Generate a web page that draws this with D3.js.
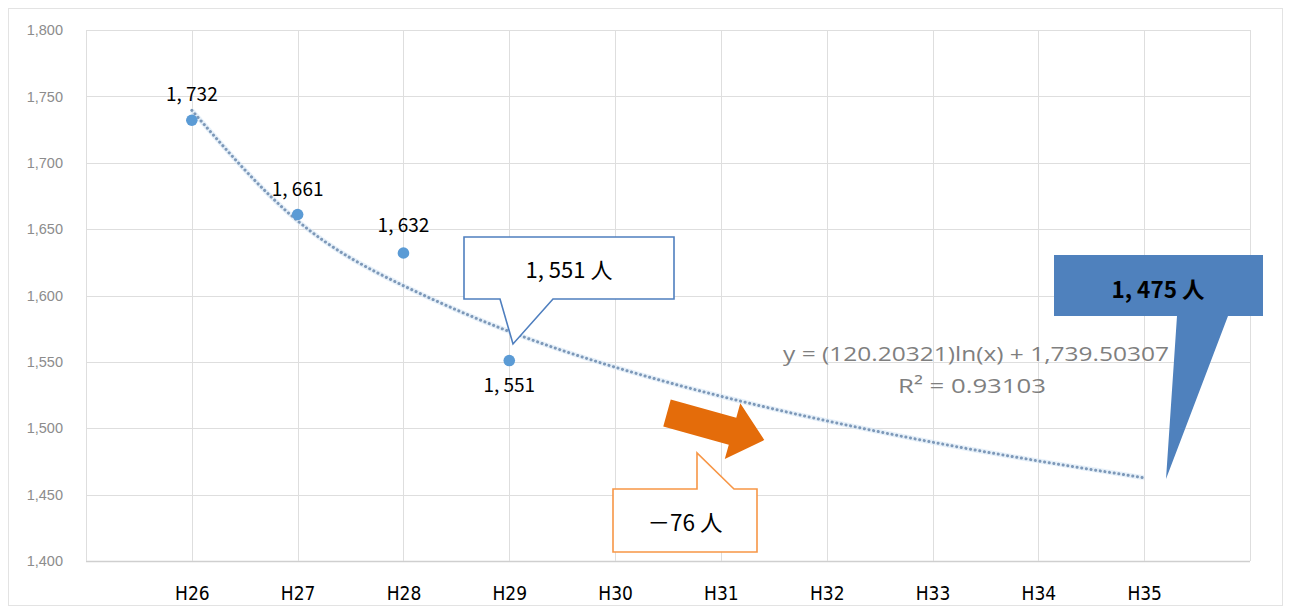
<!DOCTYPE html>
<html><head><meta charset="utf-8">
<script src="https://cdn.jsdelivr.net/npm/d3@7"></script>
<style>
html,body{margin:0;padding:0;background:#fff;}
svg{display:block;}
</style></head>
<body>
<svg id="chart" width="1290" height="613"></svg>
<script>
// ---- data ----
const categories = ["H26","H27","H28","H29","H30","H31","H32","H33","H34","H35"];
const actualValues = [1732, 1661, 1632, 1551];
const actualLabels = ["1, 732","1, 661","1, 632","1, 551"];
const trendValues = [1739.5, 1656.2, 1607.4, 1572.9, 1546.0, 1524.1, 1505.6, 1489.5, 1475.4, 1462.7];
const yTicks = [1400,1450,1500,1550,1600,1650,1700,1750,1800];
const equationLines = ["y = (120.20321)ln(x) + 1,739.50307", "R² = 0.93103"];
const calloutTexts = ["1, 551 人", "－76 人", "1, 475 人"];

(function(){
const svg = d3.select("#chart");
const mLeft = 86, mRight = 1250, mTop = 30, mBottom = 561;
const x = d3.scaleLinear().domain([0, categories.length + 1]).range([mLeft, mRight]);
const y = d3.scaleLinear().domain([1400, 1800]).range([mBottom, mTop]);

// outer border
svg.append("rect").attr("x", 8.5).attr("y", 8.5).attr("width", 1274).attr("height", 597)
  .attr("fill", "none").attr("stroke", "#e3e3e3");

// gridlines
const grid = svg.append("g");
grid.selectAll("line.h").data(yTicks).join("line")
  .attr("x1", mLeft).attr("x2", mRight)
  .attr("y1", d => Math.round(y(d)) + 0.5).attr("y2", d => Math.round(y(d)) + 0.5)
  .attr("stroke", d => d === 1400 ? "#cfcfcf" : "#dedede").attr("stroke-width", d => d === 1400 ? 1.5 : 1);
grid.selectAll("line.v").data(d3.range(0, categories.length + 2)).join("line")
  .attr("y1", mTop).attr("y2", mBottom)
  .attr("x1", d => Math.round(x(d)) + 0.5).attr("x2", d => Math.round(x(d)) + 0.5)
  .attr("stroke", "#dedede");

// y axis
const yAxis = svg.append("g").attr("transform", `translate(${mLeft - 20},0)`)
  .call(d3.axisLeft(y).tickValues(yTicks).tickSize(0).tickFormat(d3.format(",")));
yAxis.select(".domain").remove();
yAxis.selectAll("text").attr("fill", "#8c8c8c").attr("font-size", 14.5)
  .attr("font-family", "'Liberation Sans', Arial, sans-serif").attr("dx", 0);

// x axis
const xAxis = svg.append("g").attr("transform", `translate(0,${mBottom + 19})`)
  .call(d3.axisBottom(x).tickValues(d3.range(1, categories.length + 1)).tickSize(0)
    .tickFormat((d) => categories[d - 1]));
xAxis.select(".domain").remove();
xAxis.selectAll("text").attr("fill", "#000").attr("font-size", 19)
  .attr("font-family", "'DejaVu Sans Condensed', 'Liberation Sans Narrow', sans-serif")
  .style("font-stretch", "condensed").attr("dy", "0.9em");

// trend line
const line = d3.line().x((d, i) => x(i + 1)).y(d => y(d)).curve(d3.curveNatural);
svg.append("path").datum(trendValues).attr("d", line)
  .attr("fill", "none").attr("stroke", "#d6e6f5").attr("stroke-width", 5).attr("opacity", 0.6);
svg.append("path").datum(trendValues).attr("d", line)
  .attr("fill", "none").attr("stroke", "#7d98b8").attr("stroke-width", 3)
  .attr("stroke-dasharray", "0.1 4.6").attr("stroke-linecap", "round");

// points
svg.selectAll("circle.pt").data(actualValues).join("circle")
  .attr("cx", (d, i) => x(i + 1)).attr("cy", d => y(d)).attr("r", 5.8).attr("fill", "#5b9bd5");

// point labels
const labelOffsets = [-19, -19, -21, 31];
svg.selectAll("text.pl").data(actualValues).join("text")
  .attr("x", (d, i) => x(i + 1)).attr("y", (d, i) => y(d) + labelOffsets[i])
  .attr("text-anchor", "middle").attr("font-size", 19)
  .attr("font-family", "'Noto Sans CJK JP', sans-serif").attr("fill", "#000")
  .text((d, i) => actualLabels[i]);

// equation
const eq = svg.append("g").attr("font-family", "'Open Sans', 'Liberation Sans', sans-serif")
  .attr("fill", "#7f7f7f").attr("font-size", 20);
eq.append("text").attr("x", 976).attr("y", 361).attr("text-anchor", "middle")
  .attr("textLength", 386).attr("lengthAdjust", "spacingAndGlyphs").text(equationLines[0]);
eq.append("text").attr("x", 972).attr("y", 393).attr("text-anchor", "middle")
  .attr("textLength", 148).attr("lengthAdjust", "spacingAndGlyphs").text(equationLines[1]);

// callout 1 (blue outline) pointing to H29 trend
const c1 = [[464,237],[674,237],[674,299],[553,299],[513,344],[500,299],[464,299]];
svg.append("path").attr("d", "M" + c1.join("L") + "Z")
  .attr("fill", "#fff").attr("stroke", "#4f7fbf").attr("stroke-width", 1.6);
svg.append("text").attr("x", 569).attr("y", 278).attr("text-anchor", "middle")
  .attr("font-size", 22).attr("font-family", "'Noto Sans CJK JP', sans-serif").text(calloutTexts[0]);

// orange arrow
const arrowPts = [[0,-14],[68,-14],[68,-29],[101,0],[68,29],[68,14],[0,14]];
svg.append("path").attr("d", "M" + arrowPts.join("L") + "Z")
  .attr("transform", "translate(667,413) rotate(15.5)").attr("fill", "#e46c0a");

// callout 2 (orange outline)
const c2 = [[613,489],[697,489],[697,453],[734,489],[757,489],[757,552],[613,552]];
svg.append("path").attr("d", "M" + c2.join("L") + "Z")
  .attr("fill", "#fff").attr("stroke", "#f79646").attr("stroke-width", 1.6);
svg.append("text").attr("x", 685).attr("y", 531).attr("text-anchor", "middle")
  .attr("font-size", 22.5).attr("font-family", "'Noto Sans CJK JP', sans-serif").text(calloutTexts[1]);

// callout 3 (blue filled)
const c3 = [[1054,255],[1263,255],[1263,316],[1228,316],[1166,479],[1177,316],[1054,316]];
svg.append("path").attr("d", "M" + c3.join("L") + "Z").attr("fill", "#4f81bd");
svg.append("text").attr("x", 1158).attr("y", 298).attr("text-anchor", "middle")
  .attr("font-size", 22.5).attr("font-weight", "bold")
  .attr("font-family", "'Noto Sans CJK JP', sans-serif").attr("fill", "#000").text(calloutTexts[2]);
})();
</script>
</body></html>
